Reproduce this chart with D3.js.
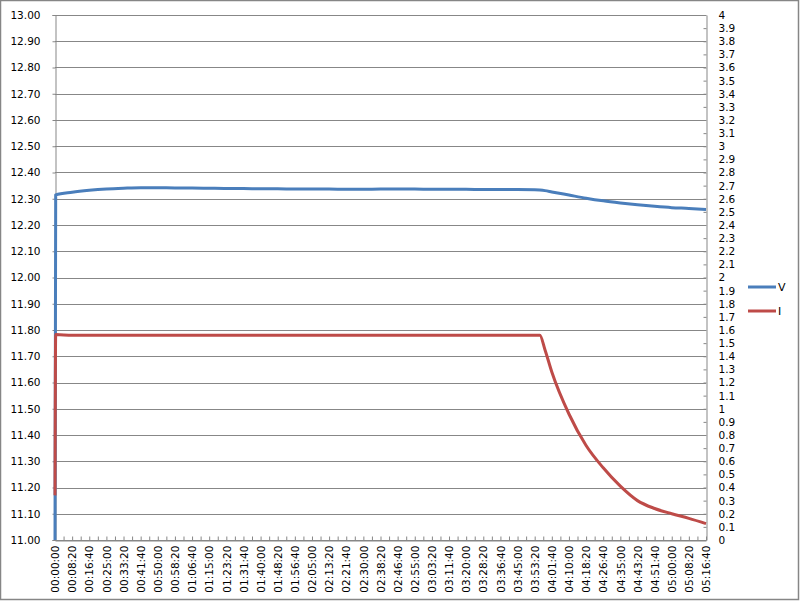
<!DOCTYPE html>
<html>
<head>
<meta charset="utf-8">
<script src="https://cdnjs.cloudflare.com/ajax/libs/d3/7.8.5/d3.min.js"></script>
<style>
  html, body { margin: 0; padding: 0; background: #fff; }
  svg { display: block; }
  text { font-family: "DejaVu Sans", Verdana, sans-serif; fill: #000; }
</style>
</head>
<body>
<div id="chart"></div>
<script>
// ---- data ----
const timeSec = [0, 20, 500, 1000, 1500, 2000, 2500, 3000, 3500, 4000, 4500, 5000, 5500, 6000,
  6500, 7000, 7500, 8000, 8500, 9000, 9500, 10000, 10500, 11000, 11500, 12000, 12500, 13000,
  13500, 14000, 14150, 14300, 14500, 15000, 15500, 16000, 16500, 17000, 17500, 18000, 18500, 19000];
const voltage = [11.00, 12.315, 12.325, 12.332, 12.337, 12.340, 12.342, 12.342, 12.341, 12.341,
  12.340, 12.339, 12.339, 12.338, 12.338, 12.337, 12.337, 12.337, 12.336, 12.336, 12.337, 12.337,
  12.337, 12.336, 12.336, 12.336, 12.335, 12.335, 12.335, 12.334, 12.333, 12.331, 12.326, 12.314,
  12.302, 12.292, 12.284, 12.277, 12.271, 12.266, 12.263, 12.259];
const current = [0.34, 1.565, 1.56, 1.56, 1.56, 1.56, 1.56, 1.56, 1.56, 1.56, 1.56, 1.56, 1.56, 1.56,
  1.56, 1.56, 1.56, 1.56, 1.56, 1.56, 1.56, 1.56, 1.56, 1.56, 1.56, 1.56, 1.56, 1.56, 1.56, 1.56,
  1.56, 1.45, 1.28, 0.96, 0.72, 0.55, 0.41, 0.30, 0.24, 0.20, 0.165, 0.125];
const xTickLabels = ["00:00:00","00:08:20","00:16:40","00:25:00","00:33:20","00:41:40","00:50:00",
  "00:58:20","01:06:40","01:15:00","01:23:20","01:31:40","01:40:00","01:48:20","01:56:40",
  "02:05:00","02:13:20","02:21:40","02:30:00","02:38:20","02:46:40","02:55:00","03:03:20",
  "03:11:40","03:20:00","03:28:20","03:36:40","03:45:00","03:53:20","04:01:40","04:10:00",
  "04:18:20","04:26:40","04:35:00","04:43:20","04:51:40","05:00:00","05:08:20","05:16:40"];
const seriesNames = ["V", "I"];
const seriesColors = ["#4a7ebb", "#be4b48"];

(function () {
// ---- layout ----
const W = 800, H = 601;
const pL = 55, pR = 706, pT = 15, pB = 540;
const toSec = s => { const p = s.split(":").map(Number); return p[0]*3600 + p[1]*60 + p[2]; };
const xTickVals = xTickLabels.map(toSec);

const svg = d3.select("#chart").append("svg").attr("width", W).attr("height", H);

// outer border
svg.append("rect").attr("x", 0.5).attr("y", 0.5).attr("width", W - 2).attr("height", H - 2)
  .attr("fill", "#fff").attr("stroke", "#868686").attr("stroke-width", 1.5);

const x = d3.scaleLinear().domain([0, 19000]).range([pL, pR]);
const yL = d3.scaleLinear().domain([11, 13]).range([pB, pT]);
const yR = d3.scaleLinear().domain([0, 4]).range([pB, pT]);

const leftTicks = d3.range(0, 21).map(i => 11 + i / 10);
const rightTicks = d3.range(0, 41).map(i => i / 10);

// gridlines
svg.append("g").selectAll("line").data(leftTicks).join("line")
  .attr("x1", pL).attr("x2", pR)
  .attr("y1", d => Math.round(yL(d)) + 0.5).attr("y2", d => Math.round(yL(d)) + 0.5)
  .attr("stroke", "#878787").attr("stroke-width", 1);

// left axis
const gL = svg.append("g").attr("transform", `translate(${pL + 0.5},0)`)
  .call(d3.axisLeft(yL).tickValues(leftTicks).tickFormat(d3.format(".2f")).tickSize(3).tickPadding(12));
gL.select(".domain").attr("stroke", "#878787");
gL.selectAll(".tick line").attr("stroke", "#878787");
gL.selectAll("text").style("font-size", "10.5px").attr("fill", "#000");

// right axis (ticks inside)
const gR = svg.append("g").attr("transform", `translate(${pR + 0.5},0)`)
  .call(d3.axisRight(yR).tickValues(rightTicks).tickFormat(d => String(d)).tickSizeInner(-3).tickSizeOuter(0).tickPadding(12));
gR.select(".domain").attr("stroke", "#878787");
gR.selectAll(".tick line").attr("stroke", "#878787");
gR.selectAll("text").style("font-size", "10.5px").attr("fill", "#000");

// bottom axis: minor ticks inside
const minorTicks = d3.range(0, 77).map(i => i * 250);
const gBm = svg.append("g").attr("transform", `translate(0,${pB + 0.5})`)
  .call(d3.axisBottom(x).tickValues(minorTicks).tickFormat("").tickSizeInner(-4).tickSizeOuter(0));
gBm.select(".domain").attr("stroke", "#878787");
gBm.selectAll(".tick line").attr("stroke", "#878787");

const gB = svg.append("g").attr("transform", `translate(0,${pB + 0.5})`)
  .call(d3.axisBottom(x).tickValues(xTickVals).tickFormat((d, i) => xTickLabels[i]).tickSize(0));
gB.select(".domain").remove();
gB.selectAll("text")
  .style("font-size", "10.5px").attr("fill", "#000")
  .attr("text-anchor", "end")
  .attr("transform", "rotate(-90)")
  .attr("x", -5).attr("y", 0).attr("dy", "0.35em");

// series
const pts = timeSec.map((t, i) => ({ t, v: voltage[i], c: current[i] }));
const lineV = d3.line().x(d => x(d.t)).y(d => yL(d.v)).curve(d3.curveMonotoneX);
const lineI = d3.line().x(d => x(d.t)).y(d => yR(d.c)).curve(d3.curveMonotoneX);

svg.append("path").datum(pts).attr("d", lineV).attr("fill", "none")
  .attr("stroke", seriesColors[0]).attr("stroke-width", 3).attr("stroke-linejoin", "round");
svg.append("path").datum(pts).attr("d", lineI).attr("fill", "none")
  .attr("stroke", seriesColors[1]).attr("stroke-width", 3).attr("stroke-linejoin", "round");

// legend
const lg = svg.append("g");
seriesNames.forEach((n, i) => {
  const yy = 287 + i * 24;
  lg.append("line").attr("x1", 748).attr("x2", 776).attr("y1", yy).attr("y2", yy)
    .attr("stroke", seriesColors[i]).attr("stroke-width", 3);
  lg.append("text").attr("x", 778).attr("y", yy).attr("dy", "0.35em")
    .style("font-size", "11px").text(n);
});
})();
</script>
</body>
</html>
